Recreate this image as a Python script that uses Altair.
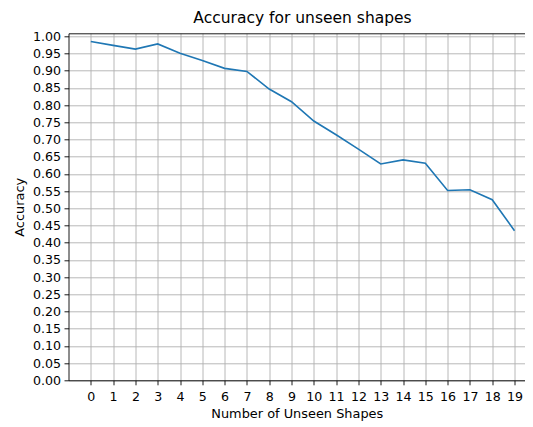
import altair as alt
import pandas as pd

unseen = list(range(20))
accuracy = [0.985, 0.974, 0.963, 0.978, 0.951, 0.930, 0.907, 0.898, 0.847, 0.810,
            0.754, 0.714, 0.672, 0.629, 0.641, 0.631, 0.552, 0.554, 0.525, 0.435]
y_ticks = [round(i * 0.05, 2) for i in range(21)]

df = pd.DataFrame({"n": unseen, "acc": accuracy})

FONT = "DejaVu Sans"
xscale = alt.Scale(domain=[-1.0, 19.47], nice=False, zero=False)
yscale = alt.Scale(domain=[0, 1.009], nice=False)

base = alt.Chart(df)

line = base.mark_line(color="#1f77b4", strokeWidth=1.6, clip=True).encode(
    x=alt.X("n:Q", scale=xscale,
            axis=alt.Axis(values=unseen, format="d", title="Number of Unseen Shapes",
                          orient="bottom", labelAngle=0, grid=True, labelOverlap=False,
                          labelPadding=6, titlePadding=4)),
    y=alt.Y("acc:Q", scale=yscale,
            axis=alt.Axis(values=y_ticks, format=".2f", title="Accuracy",
                          orient="left", grid=True, labelOverlap=False,
                          titlePadding=6)),
)

top = base.mark_point(opacity=0).encode(
    x=alt.X("n:Q", scale=xscale,
            axis=alt.Axis(orient="top", labels=False, ticks=False, grid=False,
                          title=None, domain=True)),
)

chart = alt.layer(line, top).resolve_axis(x="independent").properties(
    width=456.5,
    height=347,
    autosize=alt.AutoSizeParams(type="none"),
    padding={"left": 60.5, "top": 25.3, "right": 0, "bottom": 46.7},
    title=alt.TitleParams("Accuracy for unseen shapes", fontSize=15.5, font=FONT,
                          fontWeight="normal", color="black", anchor="middle",
                          dx=5.75, offset=4),
).configure_view(stroke=None).configure_axis(
    domainColor="black", domainWidth=0.9,
    tickColor="black", tickWidth=0.9, tickSize=4.5,
    labelFont=FONT, labelFontSize=12.6, labelColor="black", labelPadding=3.5,
    titleFont=FONT, titleFontSize=12.9, titleFontWeight="normal", titleColor="black",
    gridColor="#b0b0b0", gridWidth=0.9, gridOpacity=1,
)

chart.save("out.html", embed_options={"renderer": "svg", "actions": False})
